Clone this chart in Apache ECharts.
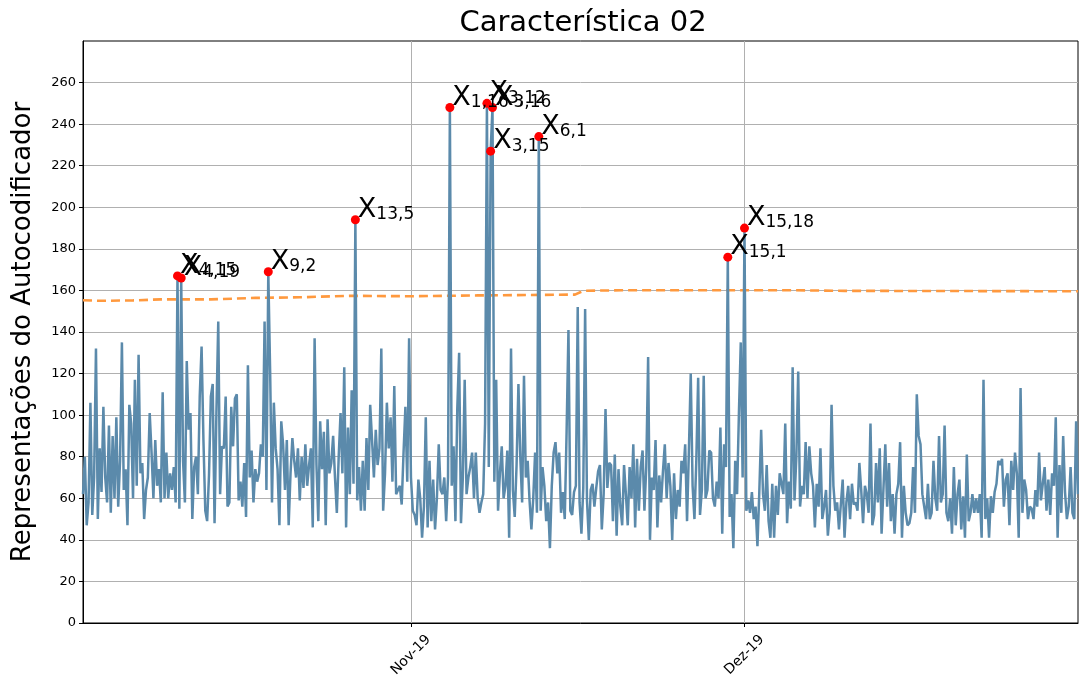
<!DOCTYPE html>
<html>
<head>
<meta charset="utf-8">
<title>Característica 02</title>
<script src="https://cdn.jsdelivr.net/npm/echarts@6/dist/echarts.min.js"></script>
<style>
  html, body { margin: 0; padding: 0; background: #fff; }
  #grafico { width: 1079px; height: 678px; }
</style>
</head>
<body>
<div id="grafico"></div>
<script>
// serie a cada 4 horas a partir de 02/out 12:00
const inicio = new Date(2019, 9, 2, 12).getTime();
const passo = 4 * 3600 * 1000;

const valores = [
  62, 80, 47, 58, 106, 52, 70, 132, 50, 84, 63, 104, 70, 58, 95, 53, 90, 60, 99, 56, 78, 135, 64, 74, 47, 105, 96,
  60, 117, 66, 129, 72, 77, 50, 64, 70, 101, 82, 60, 88, 66, 74, 58, 111, 60, 82, 60, 72, 64, 75, 58, 167, 55, 166,
  78, 58, 126, 93, 101, 50, 75, 80, 62, 109, 133, 88, 54, 49, 71, 109, 115, 48, 101, 145, 62, 85, 84, 109, 56, 58, 104,
  85, 108, 110, 59, 68, 56, 77, 51, 124, 70, 83, 58, 74, 68, 72, 86, 80, 145, 64, 169, 121, 58, 106, 84, 74, 47, 97,
  86, 64, 88, 47, 72, 89, 78, 70, 84, 59, 80, 65, 86, 66, 76, 84, 46, 137, 76, 49, 97, 74, 92, 47, 98, 72, 77,
  90, 70, 53, 80, 101, 72, 123, 46, 94, 62, 112, 67, 194, 59, 75, 54, 78, 54, 89, 64, 105, 88, 70, 93, 76, 84, 132,
  54, 72, 106, 84, 99, 68, 114, 62, 64, 66, 57, 82, 104, 68, 137, 70, 54, 52, 47, 69, 60, 41, 56, 99, 46, 78, 49,
  69, 45, 60, 86, 64, 62, 70, 49, 70, 248, 66, 85, 49, 103, 130, 48, 70, 117, 62, 70, 75, 82, 60, 82, 60, 53, 58,
  62, 96, 250, 75, 227, 248, 68, 117, 54, 72, 85, 60, 66, 83, 41, 132, 64, 51, 76, 115, 80, 58, 119, 70, 78, 59, 45,
  60, 82, 53, 234, 54, 75, 66, 49, 58, 36, 66, 82, 87, 72, 82, 53, 63, 50, 92, 141, 54, 52, 63, 66, 152, 58, 43,
  65, 151, 59, 40, 64, 67, 56, 65, 73, 76, 45, 62, 103, 65, 77, 76, 49, 81, 42, 74, 56, 47, 76, 62, 47, 75, 60,
  86, 46, 79, 54, 75, 83, 54, 75, 128, 40, 70, 64, 88, 46, 71, 58, 73, 86, 60, 77, 66, 40, 72, 50, 64, 56, 78,
  72, 86, 49, 83, 120, 66, 50, 78, 118, 52, 64, 119, 60, 64, 83, 82, 60, 56, 68, 60, 94, 43, 86, 75, 176, 51, 62,
  36, 78, 62, 101, 135, 70, 190, 54, 59, 53, 63, 50, 56, 37, 63, 93, 62, 54, 76, 49, 41, 67, 41, 66, 52, 72, 67,
  62, 96, 48, 68, 55, 123, 59, 80, 121, 56, 66, 62, 87, 60, 85, 72, 66, 46, 67, 56, 84, 50, 56, 64, 42, 53, 105,
  66, 54, 58, 45, 57, 69, 41, 58, 66, 50, 67, 57, 58, 54, 77, 64, 48, 66, 62, 53, 96, 47, 52, 77, 58, 84, 43,
  43, 86, 56, 77, 49, 62, 43, 62, 67, 87, 41, 66, 53, 47, 48, 53, 75, 53, 110, 90, 86, 62, 56, 50, 67, 50, 53,
  78, 60, 54, 90, 58, 62, 95, 53, 49, 60, 43, 75, 47, 62, 69, 45, 61, 41, 81, 49, 53, 62, 53, 60, 53, 62, 41,
  117, 50, 60, 41, 61, 53, 63, 67, 78, 76, 79, 56, 69, 72, 47, 78, 64, 82, 72, 41, 113, 53, 69, 64, 50, 56, 55,
  50, 64, 56, 82, 59, 67, 75, 54, 69, 52, 72, 66, 99, 41, 76, 53, 90, 63, 50, 56, 75, 53, 50, 97, 62
];

// limiar (linha tracejada)
const limiarDatas = [
  [2019, 9, 2, 12], [2019, 9, 4, 0], [2019, 9, 7, 0], [2019, 9, 9, 12], [2019, 9, 14, 0],
  [2019, 9, 18, 0], [2019, 9, 22, 0], [2019, 9, 26, 12], [2019, 10, 1, 0], [2019, 10, 7, 0],
  [2019, 10, 14, 0], [2019, 10, 15, 18], [2019, 10, 16, 12], [2019, 10, 20, 0], [2019, 11, 5, 0],
  [2019, 11, 10, 0], [2019, 11, 31, 0]
];
const limiarValores = [
  155.3, 155.0, 155.2, 155.7, 155.7,
  156.4, 156.7, 157.4, 157.2, 157.6,
  157.9, 158.0, 159.8, 160.1, 160.1,
  159.8, 159.6
];

// pontos anomalos: indice na serie e rotulo
const anomaliasIdx = [51, 53, 100, 147, 198, 218, 220, 221, 246, 348, 357];
const anomaliasRotulos = ['4,15', '4,19', '9,2', '13,5', '1,16', '3,12', '3,15', '3,16', '6,1', '15,1', '15,18'];

const ticksX = [new Date(2019, 10, 1).getTime(), new Date(2019, 11, 1).getTime()];
const rotulosTicksX = ['Nov-19', 'Dez-19'];
const ticksY = [0, 20, 40, 60, 80, 100, 120, 140, 160, 180, 200, 220, 240, 260];

const fonte = 'DejaVu Sans';

const serie = valores.map((v, i) => [inicio + i * passo, v]);
const limiar = limiarDatas.map((d, i) => [new Date(d[0], d[1], d[2], d[3]).getTime(), limiarValores[i]]);
const anomalias = anomaliasIdx.map((idx, k) => ({
  value: serie[idx],
  rotulo: anomaliasRotulos[k],
}));

const chart = echarts.init(document.getElementById('grafico'));

const option = {
  animation: false,
  textStyle: { fontFamily: fonte },
  title: {
    text: 'Característica 02',
    left: 578,
    top: 4,
    textAlign: 'center',
    textStyle: { fontFamily: fonte, fontSize: 29, fontWeight: 'normal', color: '#000' },
  },
  grid: {
    left: 83, right: 1, top: 41, bottom: 55,
    outerBoundsMode: 'none',
    show: true, borderColor: '#000', borderWidth: 1,
  },
  xAxis: {
    type: 'value',
    min: inicio,
    max: inicio + (valores.length - 1) * passo,
    axisLine: { lineStyle: { color: '#000', width: 1 } },
    axisTick: { customValues: ticksX, length: 4, lineStyle: { color: '#000' } },
    axisLabel: {
      customValues: ticksX,
      formatter: (v) => {
        const k = ticksX.indexOf(v);
        return k >= 0 ? rotulosTicksX[k] : '';
      },
      rotate: 45,
      align: 'center',
      verticalAlign: 'middle',
      margin: 32,
      fontSize: 14,
      fontFamily: fonte,
      color: '#000',
    },
    splitLine: { show: true, lineStyle: { color: '#b0b0b0', width: 1 } },
  },
  yAxis: {
    type: 'value',
    min: 0,
    max: 280,
    interval: 20,
    name: 'Representações do Autocodificador',
    nameLocation: 'middle',
    nameGap: 47,
    nameTextStyle: { fontSize: 26, fontFamily: fonte, color: '#000' },
    axisLine: { show: true, lineStyle: { color: '#000', width: 1 } },
    axisTick: { show: true, customValues: ticksY, length: 4, lineStyle: { color: '#000' } },
    axisLabel: {
      customValues: ticksY,
      fontSize: 13,
      fontFamily: fonte,
      color: '#000',
      margin: 7,
    },
    splitLine: { show: true, lineStyle: { color: '#b0b0b0', width: 1 } },
  },
  series: [
    {
      name: 'limiar',
      type: 'line',
      data: limiar,
      symbol: 'none',
      lineStyle: { color: '#ff993e', width: 2.6, type: [9, 5] },
      z: 2,
    },
    {
      name: 'valores',
      type: 'line',
      data: serie,
      symbol: 'none',
      lineStyle: { color: '#5b8aab', width: 2.5 },
      z: 3,
    },
    {
      name: 'anomalias',
      type: 'scatter',
      data: anomalias,
      symbolSize: 9,
      itemStyle: { color: '#ff0000', opacity: 1 },
      z: 5,
      label: {
        show: true,
        color: '#000',
        position: [7, 8],
        align: 'left',
        verticalAlign: 'bottom',
        formatter: (p) => `{x|X}{s|${p.data.rotulo}}`,
        rich: {
          x: { fontSize: 27, fontFamily: fonte, color: '#000', verticalAlign: 'bottom', lineHeight: 28 },
          s: { fontSize: 17, fontFamily: fonte, color: '#000', verticalAlign: 'bottom', lineHeight: 27 },
        },
      },
    },
  ],
};

chart.setOption(option);
</script>
</body>
</html>
